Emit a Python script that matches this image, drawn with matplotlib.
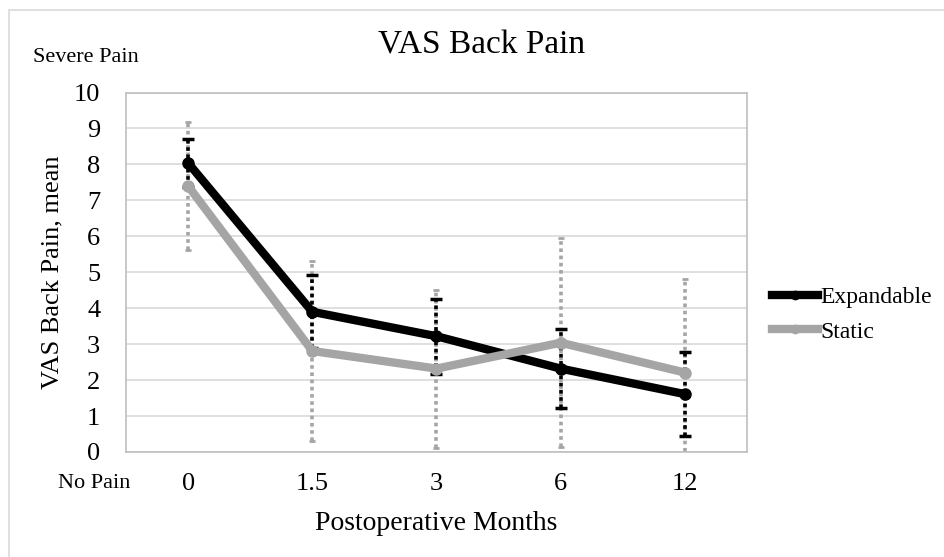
import matplotlib
matplotlib.use('Agg')
from matplotlib import pyplot as plt
from matplotlib.lines import Line2D
from matplotlib.patches import Rectangle

# donnees
months = ['0', '1.5', '3', '6', '12']
expandable_mean = [8.04, 3.90, 3.22, 2.32, 1.61]
expandable_sd = [0.68, 1.02, 1.04, 1.09, 1.16]
static_mean = [7.40, 2.81, 2.32, 3.04, 2.21]
static_sd = [1.78, 2.50, 2.20, 2.90, 2.59]

plt.rcParams['font.family'] = ['Liberation Serif', 'DejaVu Serif']

black = '#000000'
grey = '#a5a5a5'
W, H = 945, 557

fig = plt.figure(figsize=(W/100, H/100), dpi=100)
# cadre du graphique (decale comme dans Excel)
fig.patches.append(Rectangle((9.5/W, -0.05), 1.1, 1.05-9.5/H, transform=fig.transFigure,
                             fill=False, edgecolor='#d9d9d9', lw=1.2))
ax = fig.add_axes([126/W, 1-452/H, (747-126)/W, (452-92.5)/H])

x = list(range(len(months)))

# barres d'erreur en pointille
eb_s = ax.errorbar(x, static_mean, yerr=static_sd, fmt='none', ecolor=grey,
                   elinewidth=2.6, capsize=2, capthick=2, zorder=2)
eb_s[2][0].set_linestyle((0, (1, 1)))
eb_e = ax.errorbar(x, expandable_mean, yerr=expandable_sd, fmt='none', ecolor=black,
                   elinewidth=2.6, capsize=4, capthick=2.5, zorder=3)
eb_e[2][0].set_linestyle((0, (1, 1)))

ax.plot(x, expandable_mean, color=black, lw=6, marker='o', ms=8,
        solid_capstyle='round', zorder=4, label='Expandable')
ax.plot(x, static_mean, color=grey, lw=6, marker='o', ms=8,
        solid_capstyle='round', zorder=5, label='Static')

ax.set_xlim(-0.5, 4.5)
ax.set_ylim(0, 10)
ax.set_yticks(range(0, 11))
ax.set_xticks(x)
ax.set_xticklabels(months)
ax.tick_params(axis='both', length=0, labelsize=19)
ax.tick_params(axis='y', pad=18.5)
ax.tick_params(axis='x', pad=15)
ax.grid(axis='y', color='#d9d9d9', lw=1.2)
ax.set_axisbelow(True)
for s in ax.spines.values():
    s.set_color('#bfbfbf')
    s.set_linewidth(1.2)

ax.set_xlabel('Postoperative Months', fontsize=20, va='center')
ax.xaxis.set_label_coords(0.5, (452-523)/(452-92.5))
ax.set_ylabel('VAS Back Pain, mean', fontsize=19, va='center')
ax.yaxis.set_label_coords((52-126)/(747-126), 0.5)

fig.text(482/W, 1-45/H, 'VAS Back Pain', fontsize=24, ha='center', va='center')
fig.text(85.5/W, 1-57/H, 'Severe Pain', fontsize=16, ha='center', va='center')
fig.text(94.5/W, 1-484/H, 'No Pain', fontsize=16, ha='center', va='center')

handles = [Line2D([], [], color=black, lw=6, marker='o', ms=6),
           Line2D([], [], color=grey, lw=6, marker='o', ms=6)]
fig.legend(handles, ['Expandable', 'Static'], loc='center left',
           bbox_to_anchor=(772/W, 1-314.5/H), frameon=False, fontsize=17,
           handlelength=1.95, handletextpad=0.08, labelspacing=0.55,
           borderaxespad=0, borderpad=0)

fig.savefig('out.png', dpi=100)
